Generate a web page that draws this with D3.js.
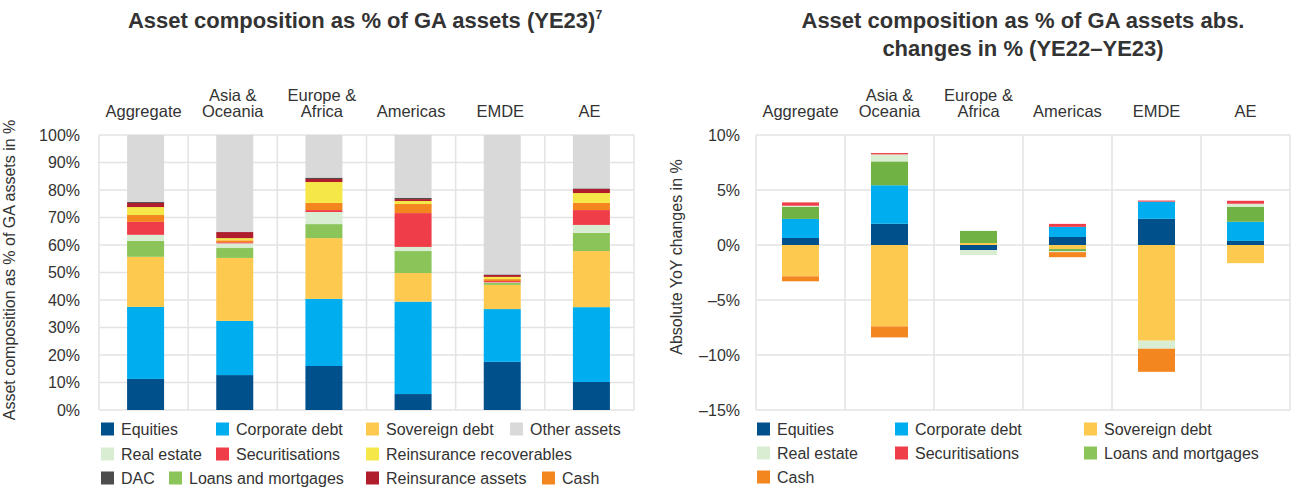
<!DOCTYPE html>
<html>
<head>
<meta charset="utf-8">
<script src="https://cdn.jsdelivr.net/npm/d3@7"></script>
<style>
  body { margin: 0; background: #fff; }
  text { font-family: "Liberation Sans", Arial, Helvetica, sans-serif; fill: #333; }
</style>
</head>
<body>
<script>
// categories shared by both charts
var categories = ["Aggregate", "Asia & Oceania", "Europe & Africa", "Americas", "EMDE", "AE"];

// left chart: asset composition as % of GA assets (YE23)
var equities23 = [11.3, 12.7, 16.0, 5.8, 17.5, 10.2];
var corporate23 = [26.2, 19.7, 24.4, 33.6, 19.2, 27.2];
var sovereign23 = [18.2, 22.9, 22.1, 10.4, 8.8, 20.4];
var loans23 = [5.8, 3.6, 5.1, 8.0, 0.7, 6.6];
var realEstate23 = [2.2, 1.7, 4.4, 1.5, 0.2, 2.9];
var securitisations23 = [4.7, 0.4, 0.7, 12.3, 0.5, 5.4];
var cash23 = [2.5, 0.7, 2.6, 3.3, 0.7, 2.6];
var reinsRecoverables23 = [2.9, 0.8, 7.6, 1.1, 0.8, 3.6];
var reinsAssets23 = [1.5, 2.2, 1.1, 0.7, 0.7, 1.5];
var dac23 = [0.4, 0.1, 0.5, 0.4, 0.2, 0.2];
var other23 = [24.3, 35.2, 15.5, 22.9, 50.7, 19.4];

// right chart: absolute YoY changes in % (YE22-YE23)
var equitiesChg = [0.64, 1.93, -0.46, 0.73, 2.38, 0.37];
var corporateChg = [1.73, 3.5, 0.0, 0.92, 1.56, 1.74];
var sovereignChg = [-2.85, -7.4, 0.18, -0.37, -8.7, -1.65];
var loansChg = [1.1, 2.17, 1.1, -0.18, 0.0, 1.37];
var realEstateChg = [0.1, 0.64, -0.46, -0.1, -0.73, 0.27];
var securitisationsChg = [0.3, 0.12, 0.0, 0.27, 0.1, 0.27];
var cashChg = [-0.45, -1.0, 0.0, -0.46, -2.1, 0.0];

// tick labels
var leftTicks = [0, 10, 20, 30, 40, 50, 60, 70, 80, 90, 100];
var rightTicks = [-15, -10, -5, 0, 5, 10];

var colors = {
  "Equities": "#00508c",
  "Corporate debt": "#00aeef",
  "Sovereign debt": "#fdc94e",
  "Other assets": "#d9d9d9",
  "Real estate": "#d9edd3",
  "Securitisations": "#ef3e4a",
  "Reinsurance recoverables": "#f6e748",
  "DAC": "#4d4d4d",
  "Loans and mortgages": "#8bc55a",
  "Reinsurance assets": "#b01e2d",
  "Cash": "#f48620"
};

var leftSeries = [
  ["Equities", equities23], ["Corporate debt", corporate23], ["Sovereign debt", sovereign23],
  ["Loans and mortgages", loans23], ["Real estate", realEstate23], ["Securitisations", securitisations23],
  ["Cash", cash23], ["Reinsurance recoverables", reinsRecoverables23], ["Reinsurance assets", reinsAssets23],
  ["DAC", dac23], ["Other assets", other23]
];
var rightSeries = [
  ["Equities", equitiesChg], ["Corporate debt", corporateChg], ["Sovereign debt", sovereignChg],
  ["Loans and mortgages", loansChg], ["Real estate", realEstateChg], ["Securitisations", securitisationsChg],
  ["Cash", cashChg]
];

function toRows(series) {
  return categories.map(function(c, i) {
    var row = {cat: c};
    series.forEach(function(s) { row[s[0]] = s[1][i]; });
    return row;
  });
}

var svg = d3.select("body").append("svg")
    .attr("width", 1293)
    .attr("height", 491);

function drawChart(opt) {
  var x = d3.scaleBand().domain(categories).range([opt.left, opt.right]).padding(0);
  var y = d3.scaleLinear().domain(opt.domain).range([410, 135]);
  var g = svg.append("g");

  // grid
  opt.ticks.forEach(function(t) {
    g.append("line").attr("x1", opt.left).attr("x2", opt.right)
      .attr("y1", y(t)).attr("y2", y(t))
      .attr("stroke", "#e3e3e3").attr("stroke-width", 1.5);
  });
  categories.concat([null]).forEach(function(c) {
    var xx = c === null ? opt.right : x(c);
    g.append("line").attr("x1", xx).attr("x2", xx)
      .attr("y1", 135).attr("y2", 410)
      .attr("stroke", "#e3e3e3").attr("stroke-width", 1.5);
  });

  // y axis labels
  var ax = g.append("g")
    .attr("transform", "translate(" + opt.tickX + ",0)")
    .call(d3.axisLeft(y).tickValues(opt.ticks).tickSize(0).tickPadding(0)
      .tickFormat(function(d) { return (d < 0 ? "\u2013" + Math.abs(d) : d) + "%"; }));
  ax.select(".domain").remove();
  ax.selectAll("text").style("font-size", "16px").attr("fill", "#333")
    .style("font-family", "'Liberation Sans', Arial, sans-serif");

  // y axis title
  g.append("text")
    .attr("transform", "translate(" + opt.titleX + "," + opt.titleY + ") rotate(-90)")
    .attr("text-anchor", "middle")
    .style("font-size", "16px")
    .text(opt.yTitle);

  // category labels
  categories.forEach(function(c) {
    var parts = c.indexOf(" & ") > 0 ? [c.split(" & ")[0] + " &", c.split(" & ")[1]] : [c];
    var cx = x(c) + x.bandwidth() / 2;
    parts.forEach(function(p, i) {
      g.append("text")
        .attr("x", cx)
        .attr("y", 117 - (parts.length - 1 - i) * 16)
        .attr("text-anchor", "middle")
        .style("font-size", "16.5px")
        .text(p);
    });
  });

  // stacked bars
  var keys = opt.series.map(function(s) { return s[0]; });
  var stack = d3.stack().keys(keys).offset(d3.stackOffsetDiverging)(toRows(opt.series));
  var bw = 37;
  g.selectAll("g.layer")
    .data(stack)
    .enter().append("g")
    .attr("class", "layer")
    .attr("fill", function(d) { return (opt.barColors && opt.barColors[d.key]) || colors[d.key]; })
    .selectAll("rect")
    .data(function(d) { return d; })
    .enter().append("rect")
    .attr("x", function(d) { return x(d.data.cat) + x.bandwidth() / 2 - bw / 2 + opt.shift; })
    .attr("width", bw)
    .attr("y", function(d) { return y(Math.max(d[0], d[1])); })
    .attr("height", function(d) { return Math.abs(y(d[0]) - y(d[1])); });

  // legend
  opt.legend.forEach(function(it) {
    g.append("rect").attr("x", it[1]).attr("y", it[2] - 6.5)
      .attr("width", 13).attr("height", 13).attr("fill", colors[it[0]]);
    g.append("text").attr("x", it[1] + 20).attr("y", it[2])
      .attr("dy", "0.35em")
      .style("font-size", "16px")
      .text(it[0]);
  });
}

drawChart({
  left: 99, right: 634, domain: [0, 100], ticks: leftTicks, tickX: 80,
  titleX: 15, titleY: 270, yTitle: "Asset composition as % of GA assets in %",
  series: leftSeries, shift: 2,
  legend: [
    ["Equities", 101, 429], ["Corporate debt", 216, 429], ["Sovereign debt", 366, 429], ["Other assets", 510, 429],
    ["Real estate", 101, 454], ["Securitisations", 216, 454], ["Reinsurance recoverables", 366, 454],
    ["DAC", 101, 478], ["Loans and mortgages", 169, 478], ["Reinsurance assets", 366, 478], ["Cash", 542, 478]
  ]
});

drawChart({
  left: 756, right: 1290, domain: [-15, 10], ticks: rightTicks, tickX: 740,
  titleX: 682, titleY: 257, yTitle: "Absolute YoY changes in %",
  series: rightSeries, shift: 0, barColors: {"Loans and mortgages": "#71b245"},
  legend: [
    ["Equities", 757, 429], ["Corporate debt", 895, 429], ["Sovereign debt", 1084, 429],
    ["Real estate", 757, 453], ["Securitisations", 895, 453], ["Loans and mortgages", 1084, 453],
    ["Cash", 757, 477]
  ]
});

// chart titles
var t1 = svg.append("text")
  .attr("x", 365).attr("y", 28)
  .attr("text-anchor", "middle")
  .style("font-size", "22px").style("font-weight", "bold").attr("fill", "#222");
t1.append("tspan").text("Asset composition as % of GA assets (YE23)");
t1.append("tspan").attr("dy", -9).style("font-size", "12px").text("7");

svg.append("text")
  .attr("x", 1023).attr("y", 28)
  .attr("text-anchor", "middle")
  .style("font-size", "22px").style("font-weight", "bold").attr("fill", "#222")
  .text("Asset composition as % of GA assets abs.");
svg.append("text")
  .attr("x", 1023).attr("y", 56)
  .attr("text-anchor", "middle")
  .style("font-size", "22px").style("font-weight", "bold").attr("fill", "#222")
  .text("changes in % (YE22\u2013YE23)");
</script>
</body>
</html>
